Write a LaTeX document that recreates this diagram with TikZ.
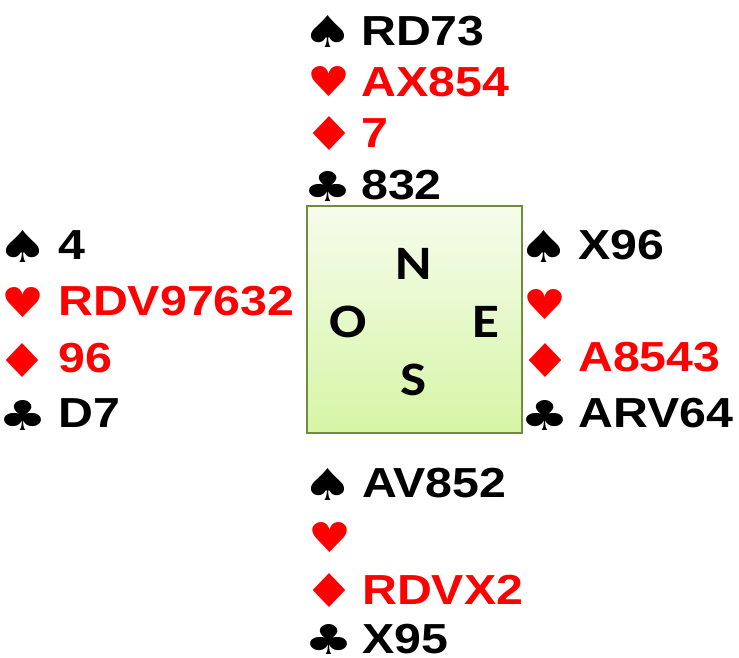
\documentclass[tikz,border=0pt]{standalone}
\usepackage{fontspec}
\setmainfont{Liberation Sans}
\newfontfamily\suitfont{DejaVu Sans}
\newfontfamily\compassfont{Carlito}

\definecolor{cardred}{RGB}{255,0,0}
\definecolor{tabletop}{RGB}{246,252,236}
\definecolor{tablebottom}{RGB}{214,245,166}
\definecolor{tableedge}{RGB}{112,140,64}

% suit symbols, each set to a fixed size; the outer box drops the side bearings
\newcommand{\spadeglyph}{\makebox[35pt]{\resizebox*{51pt}{32pt}{\suitfont ♠}}}
\newcommand{\heartglyph}{\makebox[34pt]{\resizebox*{43pt}{30pt}{\suitfont ♥}}}
\newcommand{\diamondglyph}{\makebox[30pt]{\resizebox*{52pt}{34pt}{\suitfont ♦}}}
\newcommand{\clubglyph}{\makebox[35pt]{\resizebox*{49pt}{30pt}{\suitfont ♣}}}
% card holdings are set in a slightly widened bold sans
\newcommand{\cards}[1]{\scalebox{1.15}[1]{#1}}

\tikzset{
  holding/.style={font=\fontsize{42}{42}\selectfont\bfseries, inner sep=0pt, anchor=base west},
  suit/.style={inner sep=0pt},
  redcards/.style={text=cardred},
  compass/.style={font=\compassfont\bfseries\fontsize{48}{48}\selectfont, inner sep=0pt},
  bridgetable/.style={draw=tableedge, line width=1.5pt, top color=tabletop,
    bottom color=tablebottom, minimum width=215pt, minimum height=227pt, inner sep=0pt},
}

\begin{document}
\begin{tikzpicture}[x=1pt, y=-1pt]
  \useasboundingbox (0,0) rectangle (739,658);

  % the table with the four seats
  \node[bridgetable] (table) at (414.5,319.5) {};
  \node[compass] (seatN) at (414,264) {\cards{N}};
  \node[compass] (seatO) at (348,322) {\cards{O}};
  \node[compass] (seatE) at (486,322) {\cards{E}};
  \node[compass] (seatS) at (414,380) {\cards{S}};

  % North
  \node[suit] (ns) at (328,32) {\spadeglyph};
  \node[holding] (nst) at (361,46) {\cards{RD73}};
  \node[suit, redcards] (nh) at (329,82) {\heartglyph};
  \node[holding, redcards] (nht) at (361,97) {\cards{AX854}};
  \node[suit, redcards] (nd) at (329,134) {\diamondglyph};
  \node[holding, redcards] (ndt) at (361,148) {\cards{7}};
  \node[suit] (nc) at (328,186) {\clubglyph};
  \node[holding] (nct) at (361,199) {\cards{832}};

  % West
  \node[suit] (ws) at (23,246) {\spadeglyph};
  \node[holding] (wst) at (58,259) {\cards{4}};
  \node[suit, redcards] (wh) at (23,302) {\heartglyph};
  \node[holding, redcards] (wht) at (58,315) {\cards{RDV97632}};
  \node[suit, redcards] (wd) at (23,360) {\diamondglyph};
  \node[holding, redcards] (wdt) at (58,372) {\cards{96}};
  \node[suit] (wc) at (23,415) {\clubglyph};
  \node[holding] (wct) at (58,427) {\cards{D7}};

  % East
  \node[suit] (es) at (544,246) {\spadeglyph};
  \node[holding] (est) at (578,259) {\cards{X96}};
  \node[suit, redcards] (eh) at (545,304) {\heartglyph};
  \node[suit, redcards] (ed) at (545,360) {\diamondglyph};
  \node[holding, redcards] (edt) at (578,371) {\cards{A8543}};
  \node[suit] (ec) at (545,415) {\clubglyph};
  \node[holding] (ect) at (578,427) {\cards{ARV64}};

  % South
  \node[suit] (ss) at (328,484) {\spadeglyph};
  \node[holding] (sst) at (362,497) {\cards{AV852}};
  \node[suit, redcards] (sh) at (330,537) {\heartglyph};
  \node[suit, redcards] (sd) at (329,590) {\diamondglyph};
  \node[holding, redcards] (sdt) at (362,604) {\cards{RDVX2}};
  \node[suit] (sc) at (329,639) {\clubglyph};
  \node[holding] (sct) at (362,653) {\cards{X95}};
\end{tikzpicture}
\end{document}
